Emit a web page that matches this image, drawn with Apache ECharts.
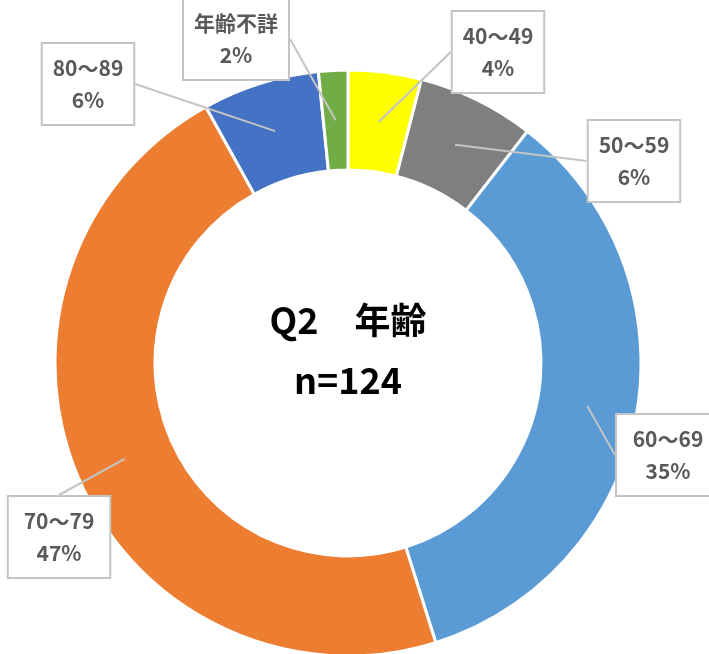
<!DOCTYPE html>
<html>
<head>
<meta charset="utf-8">
<title>Q2 年齢</title>
<style>
html, body { margin: 0; padding: 0; background: #fff; }
#main { width: 709px; height: 654px; }
</style>
</head>
<body>
<div id="main"></div>
<script src="https://cdn.jsdelivr.net/npm/echarts@6/dist/echarts.min.js"></script>
<script>
// データ
var categories = ['40～49', '50～59', '60～69', '70～79', '80～89', '年齢不詳'];
var counts = [5, 8, 43, 58, 8, 2];
var colors = ['#FFFF00', '#7F7F7F', '#5B9BD5', '#ED7D31', '#4472C4', '#70AD47'];
var centerText = ['Q2　年齢', 'n=124'];

// 吹き出しの中心位置 (px)
var calloutPos = [[498, 52], [634, 161], [668, 455], [59, 537], [88, 84], [236, 39]];

var font = '"Noto Sans CJK JP", "Noto Sans", sans-serif';

var myChart = echarts.init(document.getElementById('main'));

var ringData = categories.map(function (name, i) {
    return { name: name, value: counts[i], itemStyle: { color: colors[i] } };
});
var labelData = categories.map(function (name, i) {
    return { name: name, value: counts[i] };
});

var option = {
    backgroundColor: '#fff',
    animation: false,
    graphic: [{
        type: 'text',
        x: 348,
        y: 350,
        style: {
            text: centerText.join('\n'),
            fill: '#000',
            font: 'bold 36px ' + font,
            align: 'center',
            verticalAlign: 'middle',
            lineHeight: 60
        }
    }],
    series: [{
        // ドーナツ本体
        type: 'pie',
        center: [348, 363],
        radius: [193, 293],
        startAngle: 90,
        silent: true,
        itemStyle: { borderColor: '#fff', borderWidth: 3 },
        label: { show: false },
        labelLine: { show: false },
        data: ringData
    }, {
        // 吹き出しラベル用 (透明)
        type: 'pie',
        center: [348, 363],
        radius: [0, 243],
        startAngle: 90,
        silent: true,
        z: 3,
        itemStyle: { color: 'transparent' },
        label: {
            show: true,
            position: 'outside',
            formatter: function (p) {
                return p.name + '\n' + Math.round(p.percent) + '%';
            },
            color: '#595959',
            fontFamily: font,
            fontSize: 21,
            fontWeight: 'bold',
            lineHeight: 32,
            align: 'center',
            padding: [8, 10],
            backgroundColor: '#fff',
            borderColor: '#C4C4C4',
            borderWidth: 2
        },
        labelLine: {
            show: true,
            length: 10,
            length2: 0,
            lineStyle: { color: '#C4C4C4', width: 2 }
        },
        labelLayout: function (p) {
            var c = calloutPos[p.dataIndex];
            return { x: c[0], y: c[1], align: 'center', verticalAlign: 'middle' };
        },
        data: labelData
    }]
};

myChart.setOption(option);
</script>
</body>
</html>
